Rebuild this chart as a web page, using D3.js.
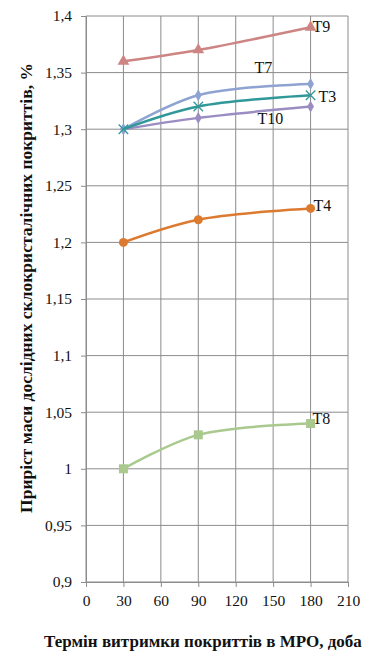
<!DOCTYPE html>
<html lang="uk">
<head>
<meta charset="utf-8">
<title>Приріст маси</title>
<script src="https://cdn.jsdelivr.net/npm/d3@7"></script>
<style>
  body { margin: 0; background: #fff; }
</style>
</head>
<body>
<script>
// chart size
var w = 370, h = 653;
var padLeft = 86, padRight = 348, padTop = 16, padBottom = 582;

// data
var days = [30, 90, 180];
var t9 = [1.36, 1.37, 1.39];
var t7 = [1.30, 1.33, 1.34];
var t3 = [1.30, 1.32, 1.33];
var t10 = [1.30, 1.31, 1.32];
var t4 = [1.20, 1.22, 1.23];
var t8 = [1.00, 1.03, 1.04];
var xTicks = [0, 30, 60, 90, 120, 150, 180, 210];
var yTicks = [0.9, 0.95, 1, 1.05, 1.1, 1.15, 1.2, 1.25, 1.3, 1.35, 1.4];

var series = [
  { name: "T9", vals: t9, color: "#cd8584", marker: "triangle", dx: 2, dy: 5 },
  { name: "T4", vals: t4, color: "#dc7a30", marker: "circle", dx: 3, dy: 3 },
  { name: "T8", vals: t8, color: "#a9c98e", marker: "square", dx: 2, dy: 0 },
  { name: "T10", vals: t10, color: "#9b8cc2", marker: "diamond", dx: -53, dy: 17 },
  { name: "T7", vals: t7, color: "#8ea3d2", marker: "diamond", dx: -56, dy: -11 },
  { name: "T3", vals: t3, color: "#31989a", marker: "cross", dx: 8, dy: 7 }
];

var x = d3.scaleLinear().domain([0, 210]).range([padLeft, padRight]);
var y = d3.scaleLinear().domain([0.9, 1.4]).range([padBottom, padTop]);
var fmt = function(d) { return String(+d.toFixed(2)).replace(".", ","); };
var serif = "'Liberation Serif', 'Times New Roman', serif";

var svg = d3.select("body").append("svg").attr("width", w).attr("height", h);

// grid
svg.append("g").selectAll("line").data(yTicks).enter().append("line")
  .attr("x1", padLeft).attr("x2", padRight)
  .attr("y1", function(d) { return y(d); }).attr("y2", function(d) { return y(d); })
  .attr("stroke", "#8c8c8c").attr("stroke-width", 1);
svg.append("g").selectAll("line").data(xTicks).enter().append("line")
  .attr("x1", function(d) { return x(d); }).attr("x2", function(d) { return x(d); })
  .attr("y1", padTop).attr("y2", padBottom)
  .attr("stroke", "#8c8c8c").attr("stroke-width", 1);

// axes
var xAxis = d3.axisBottom(x).tickValues(xTicks).tickSize(5).tickPadding(8);
var yAxis = d3.axisLeft(y).tickValues(yTicks).tickFormat(fmt).tickSize(5).tickPadding(9);
var gx = svg.append("g").attr("transform", "translate(0," + padBottom + ")").call(xAxis);
var gy = svg.append("g").attr("transform", "translate(" + padLeft + ",0)").call(yAxis);
[gx, gy].forEach(function(g) {
  g.select(".domain").attr("stroke", "#8c8c8c");
  g.selectAll(".tick line").attr("stroke", "#8c8c8c");
  g.selectAll(".tick text").attr("fill", "#111")
    .style("font-family", serif).style("font-size", "15.5px");
});

// lines
var line = d3.line()
  .x(function(d, i) { return x(days[i]); })
  .y(function(d) { return y(d); })
  .curve(d3.curveCatmullRom.alpha(0.5));

series.forEach(function(s) {
  svg.append("path").datum(s.vals).attr("d", line)
    .attr("fill", "none").attr("stroke", s.color).attr("stroke-width", 2.5);
  var g = svg.append("g");
  s.vals.forEach(function(v, i) {
    var cx = x(days[i]), cy = y(v);
    if (s.marker === "circle") {
      g.append("circle").attr("cx", cx).attr("cy", cy).attr("r", 4.5).attr("fill", s.color);
    } else if (s.marker === "square") {
      g.append("rect").attr("x", cx - 4.5).attr("y", cy - 4.5).attr("width", 9).attr("height", 9).attr("fill", s.color);
    } else if (s.marker === "triangle") {
      g.append("path").attr("d", d3.symbol(d3.symbolTriangle, 60)()).attr("transform", "translate(" + cx + "," + cy + ")").attr("fill", s.color);
    } else if (s.marker === "diamond") {
      g.append("path").attr("d", d3.symbol(d3.symbolDiamond, 40)()).attr("transform", "translate(" + cx + "," + cy + ")").attr("fill", s.color);
    } else {
      g.append("path").attr("d", d3.symbol(d3.symbolX, 60)()).attr("transform", "translate(" + cx + "," + cy + ")")
        .attr("fill", "none").attr("stroke", s.color).attr("stroke-width", 1.3);
    }
  });
  var last = s.vals.length - 1;
  svg.append("text")
    .attr("x", x(days[last]) + s.dx).attr("y", y(s.vals[last]) + s.dy)
    .style("font-family", serif).style("font-size", "16px").attr("fill", "#111")
    .text(s.name);
});

// axis titles
svg.append("text")
  .attr("x", 203).attr("y", 647)
  .attr("text-anchor", "middle").attr("fill", "#111")
  .style("font-family", serif).style("font-weight", "bold").style("font-size", "17px")
  .text("Термін витримки покриттів в МРО, доба");

svg.append("text")
  .attr("transform", "translate(32,288) rotate(-90)")
  .attr("text-anchor", "middle").attr("fill", "#111")
  .style("font-family", serif).style("font-weight", "bold").style("font-size", "17.5px")
  .text("Приріст маси дослідних склокристалічних покриттів, %");
</script>
</body>
</html>
